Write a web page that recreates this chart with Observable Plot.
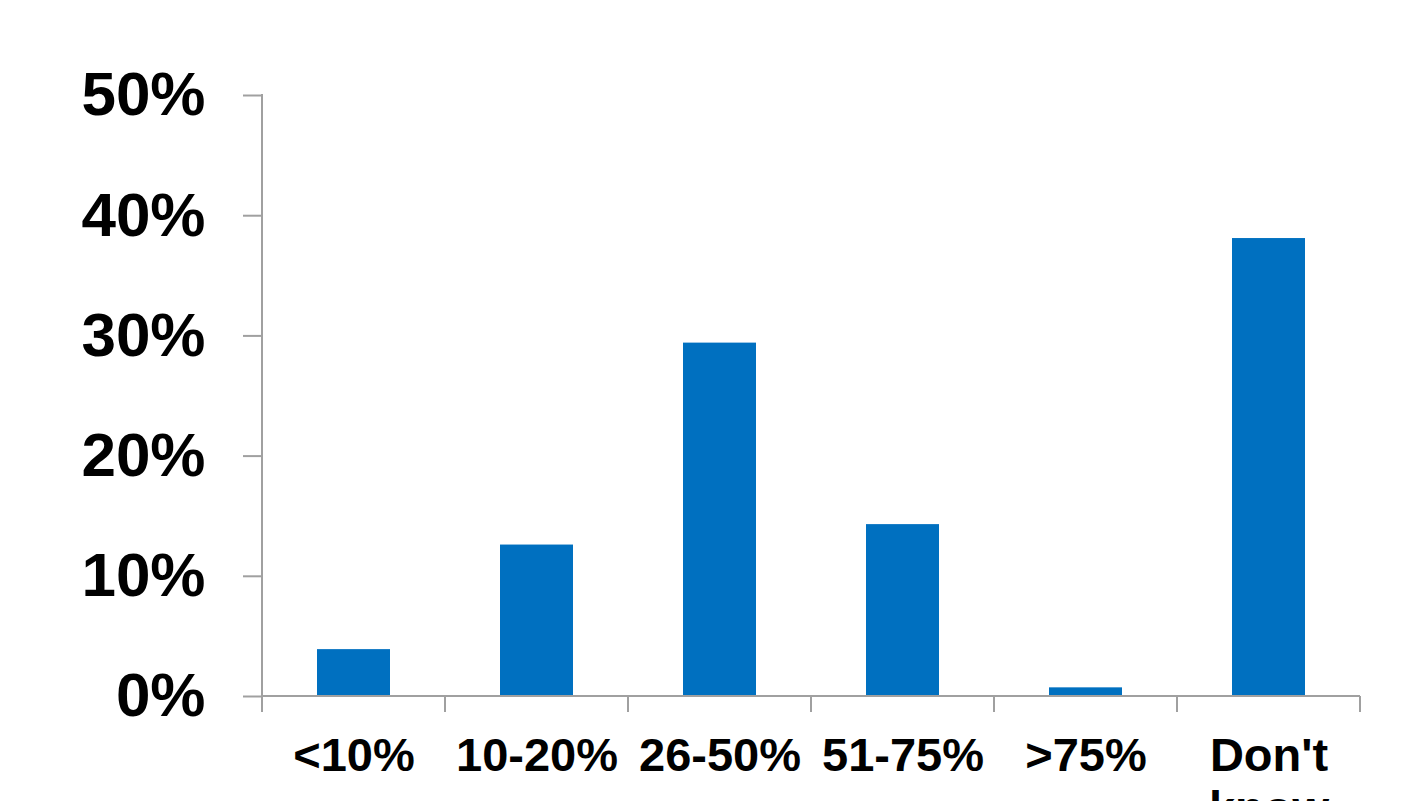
<!DOCTYPE html>
<html>
<head>
<meta charset="utf-8">
<script src="https://cdn.jsdelivr.net/npm/d3@7"></script>
<script src="https://cdn.jsdelivr.net/npm/@observablehq/plot@0.6"></script>
<style>
  html, body { margin: 0; padding: 0; background: #fff; }
  #chart { width: 1424px; height: 801px; overflow: hidden; }
</style>
</head>
<body>
<div id="chart"></div>
<script>
const categories = ["<10%", "10-20%", "26-50%", "51-75%", ">75%", "Don't know"];
const shares = [0.039, 0.126, 0.294, 0.143, 0.0072, 0.381];
const yTicks = [0, 0.1, 0.2, 0.3, 0.4, 0.5];
const tickLabels = {"Don't know": "Don't\nknow"};

const data = categories.map((c, i) => ({category: c, share: shares[i]}));
const axisGrey = "#a0a0a0";

// Category-boundary ticks below the x axis plus the vertical y-axis line
function frameTicks(index, scales) {
  const x = scales.x, y = scales.y;
  const bw = typeof x.bandwidth === "function" ? x.bandwidth() : x.bandwidth;
  const step = typeof x.step === "function" ? x.step() : bw / (1 - 0.6);
  const gap = (step - bw) / 2;
  const bounds = categories.map(c => x(c) - gap);
  bounds.push(bounds[bounds.length - 1] + step);
  const y0 = y(0), yTop = y(0.5);
  const g = d3.create("svg:g").attr("stroke", axisGrey).attr("stroke-width", 2);
  g.selectAll("line.b").data(bounds).join("line")
    .attr("x1", d => d).attr("x2", d => d)
    .attr("y1", y0).attr("y2", y0 + 16);
  g.append("line")
    .attr("x1", bounds[0]).attr("x2", bounds[bounds.length - 1])
    .attr("y1", y0).attr("y2", y0);
  g.append("line")
    .attr("x1", bounds[0]).attr("x2", bounds[0])
    .attr("y1", y0).attr("y2", yTop - 1);
  return g.node();
}

const chart = Plot.plot({
  width: 1424,
  height: 801,
  marginLeft: 261,
  marginRight: 62,
  marginTop: 95,
  marginBottom: 105,
  style: {fontFamily: "'Liberation Sans', Arial, sans-serif", color: "#000", background: "#fff", overflow: "hidden"},
  x: {domain: categories, paddingInner: 0.6, paddingOuter: 0.3, label: null},
  y: {domain: [0, 0.5], label: null},
  marks: [
    Plot.barY(data, {x: "category", y: "share", fill: "#0070C0"}),
    Plot.axisY({
      ticks: yTicks,
      tickFormat: d3.format(".0%"),
      tickSize: 18,
      tickPadding: 38,
      stroke: axisGrey,
      strokeWidth: 2,
      fill: "#000",
      fontSize: 62,
      fontWeight: "bold",
      label: null
    }),
    Plot.axisX({
      tickSize: 0,
      tickPadding: 37,
      tickFormat: d => tickLabels[d] ?? d,
      fill: "#000",
      fontSize: 47,
      fontWeight: "bold",
      lineHeight: 1.13,
      label: null
    }),
    frameTicks
  ]
});

document.getElementById("chart").appendChild(chart);
</script>
</body>
</html>
